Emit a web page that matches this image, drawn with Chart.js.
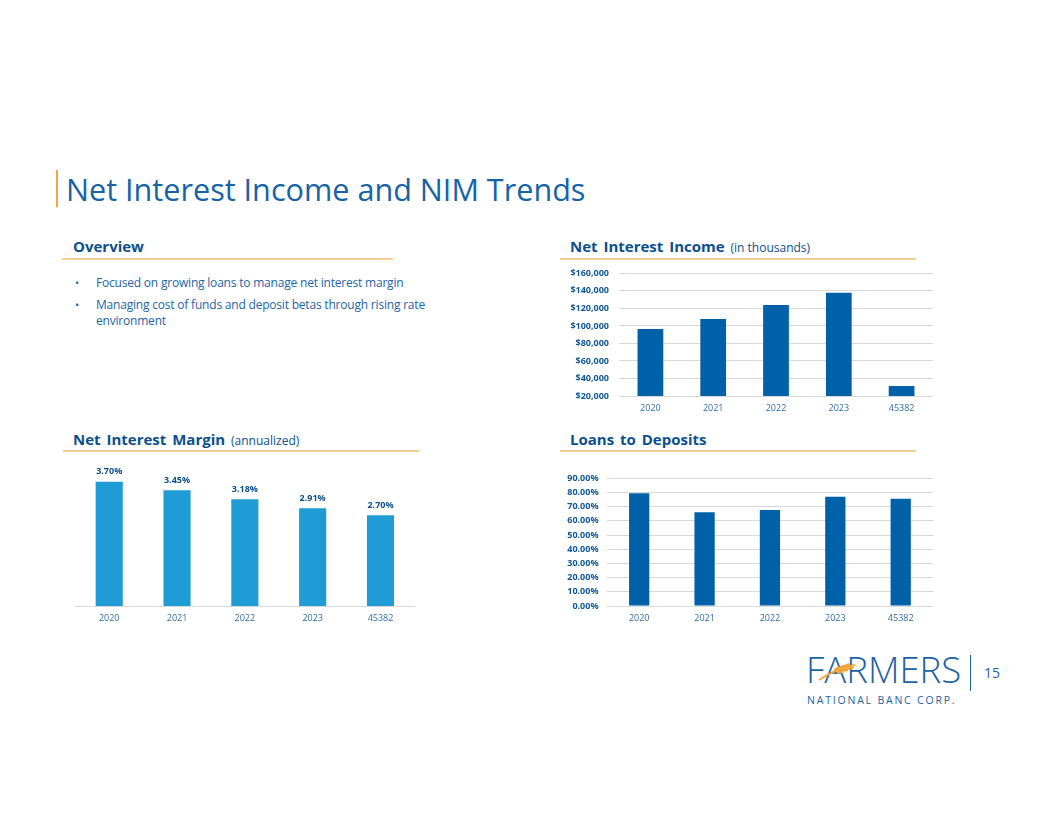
<!DOCTYPE html>
<html>
<head>
<meta charset="utf-8">
<script src="https://cdn.jsdelivr.net/npm/chart.js@4"></script>
<style>
  html, body { margin: 0; padding: 0; background: #fff; }
  body { width: 1056px; height: 816px; position: relative; overflow: hidden; font-family: "Open Sans", sans-serif; }
  .abs { position: absolute; }
  .title { left: 66px; top: 168px; font-size: 30.6px; color: #1763a8; white-space: nowrap; }
  .title-bar { left: 56px; top: 170px; width: 2px; height: 37px; background: #f2a63c; }
  .head { font-size: 15px; font-weight: bold; color: #0d4f8d; white-space: nowrap; word-spacing: 2px; }
  .head span { font-weight: normal; font-size: 12px; word-spacing: 0; }
  .rule { height: 2px; background: #f5cf8e; }
  .bullets { left: 75px; top: 275px; width: 356px; font-size: 12px; letter-spacing: -0.2px; color: #1e64a6; line-height: 16px; }
  .bullets div { position: relative; padding-left: 21px; margin-bottom: 6px; }
  .bullets div::before { content: "\2022"; position: absolute; left: 0; top: 0; font-size: 11px; }
  canvas { position: absolute; }
  .logo { left: 806px; top: 644px; font-size: 36.5px; font-weight: 300; color: #1d62a4; }
  .logo-sub { left: 807px; top: 693px; font-size: 10.5px; color: #1d62a4; letter-spacing: 1.8px; white-space: nowrap; }
  .sep { left: 970px; top: 655px; width: 1px; height: 36px; background: #1d62a4; }
  .page { left: 984px; top: 663px; font-size: 14px; color: #1d62a4; }
</style>
</head>
<body>
<div class="abs title-bar"></div>
<div class="abs title">Net Interest Income and NIM Trends</div>

<div class="abs head" style="left:73px;top:236px;">Overview</div>
<div class="abs rule" style="left:62px;top:258px;width:331px;"></div>
<div class="abs bullets">
  <div>Focused on growing loans to manage net interest margin</div>
  <div>Managing cost of funds and deposit betas through rising rate environment</div>
</div>

<div class="abs head" style="left:570px;top:236px;">Net Interest Income <span>(in thousands)</span></div>
<div class="abs rule" style="left:560px;top:258px;width:356px;"></div>
<canvas id="chart-nii" width="380" height="162" style="left:560px;top:258px;"></canvas>

<div class="abs head" style="left:73px;top:429px;">Net Interest Margin <span>(annualized)</span></div>
<div class="abs rule" style="left:63px;top:450px;width:356px;"></div>
<canvas id="chart-nim" width="360" height="170" style="left:60px;top:460px;"></canvas>

<div class="abs head" style="left:570px;top:429px;">Loans to Deposits</div>
<div class="abs rule" style="left:560px;top:450px;width:356px;"></div>
<canvas id="chart-ltd" width="390" height="165" style="left:550px;top:465px;"></canvas>

<div class="abs logo">FARMERS</div>
<svg class="abs" style="left:815px;top:658px;" width="45" height="26" viewBox="0 0 45 26">
  <path d="M4 22 Q18 12 40 7" stroke="#f2a63c" stroke-width="2" fill="none"/>
  <ellipse cx="22" cy="11" rx="3.5" ry="1.6" fill="#f2a63c" transform="rotate(-30 22 11)"/>
  <ellipse cx="27" cy="9" rx="3.5" ry="1.6" fill="#f2a63c" transform="rotate(-30 27 9)"/>
  <ellipse cx="32" cy="7.5" rx="3.5" ry="1.6" fill="#f2a63c" transform="rotate(-30 32 7.5)"/>
  <ellipse cx="25" cy="14" rx="3.5" ry="1.6" fill="#f2a63c" transform="rotate(-5 25 14)"/>
  <ellipse cx="30" cy="12" rx="3.5" ry="1.6" fill="#f2a63c" transform="rotate(-5 30 12)"/>
  <ellipse cx="35" cy="10" rx="3.5" ry="1.6" fill="#f2a63c" transform="rotate(-5 35 10)"/>
</svg>
<div class="abs logo-sub">NATIONAL BANC CORP.</div>
<div class="abs sep"></div>
<div class="abs page">15</div>

<script>
const YEARS = ["2020", "2021", "2022", "2023", "45382"];
const NII_VALUES = [96500, 108000, 123800, 138000, 31500];
const NIM_VALUES = [3.70, 3.45, 3.18, 2.91, 2.70];
const LTD_VALUES = [79.6, 66.1, 67.7, 77.0, 75.6];

const COLORS = {
  darkBar: "#0060a8",
  lightBar: "#1f9cd6",
  tickBold: "#0f5799",
  tickLabel: "#2f6fae",
  grid: "#d9d9d9",
  label: "#0e4f8a",
};

Chart.defaults.font.family = "'Open Sans', sans-serif";
Chart.defaults.animation = false;

const barLabels = {
  id: "barLabels",
  afterDatasetsDraw(chart) {
    const ctx = chart.ctx;
    const meta = chart.getDatasetMeta(0);
    ctx.save();
    ctx.font = "bold 9px 'Open Sans', sans-serif";
    ctx.fillStyle = COLORS.label;
    ctx.textAlign = "center";
    ctx.textBaseline = "middle";
    meta.data.forEach((bar, i) => {
      ctx.fillText(chart.data.datasets[0].data[i].toFixed(2) + "%", bar.x, bar.y - 10);
    });
    ctx.restore();
  },
};

function xAxis(showBorder) {
  return {
    grid: { display: false, drawTicks: false },
    border: { display: showBorder, color: COLORS.grid },
    ticks: { color: COLORS.tickLabel, font: { size: 9 }, padding: 7.5 },
    afterFit(scale) { scale.height = 24; },
  };
}

function initCharts() {
  // y tick padding also pads the chart top, so the canvas sits higher
  new Chart(document.getElementById("chart-nii"), {
    type: "bar",
    data: {
      labels: YEARS,
      datasets: [{
        data: NII_VALUES,
        backgroundColor: COLORS.darkBar,
        barPercentage: 0.41,
        categoryPercentage: 1,
      }],
    },
    options: {
      responsive: false,
      layout: { padding: { top: 0, right: 7, bottom: 0, left: 0 } },
      plugins: { legend: { display: false }, tooltip: { enabled: false } },
      scales: {
        x: xAxis(false),
        y: {
          min: 20000,
          max: 160000,
          grid: { color: COLORS.grid, drawTicks: false },
          border: { display: false },
          ticks: {
            stepSize: 20000,
            autoSkip: false,
            padding: 10,
            color: COLORS.tickBold,
            font: { size: 9, weight: "bold" },
            callback: (v) => "$" + v.toLocaleString("en-US"),
          },
          afterFit(scale) { scale.width = 59; },
        },
      },
    },
  });

  new Chart(document.getElementById("chart-nim"), {
    type: "bar",
    data: {
      labels: YEARS,
      datasets: [{
        data: NIM_VALUES,
        backgroundColor: COLORS.lightBar,
        barPercentage: 0.4,
        categoryPercentage: 1,
      }],
    },
    options: {
      responsive: false,
      layout: { padding: { top: 11.7, right: 5.6, bottom: 0, left: 15.3 } },
      plugins: { legend: { display: false }, tooltip: { enabled: false } },
      scales: {
        x: xAxis(true),
        y: { display: false, min: 0, max: 4 },
      },
    },
    plugins: [barLabels],
  });

  new Chart(document.getElementById("chart-ltd"), {
    type: "bar",
    data: {
      labels: YEARS,
      datasets: [{
        data: LTD_VALUES,
        backgroundColor: COLORS.darkBar,
        barPercentage: 0.31,
        categoryPercentage: 1,
      }],
    },
    options: {
      responsive: false,
      layout: { padding: { top: 0, right: 6.6, bottom: 0, left: 0 } },
      plugins: { legend: { display: false }, tooltip: { enabled: false } },
      scales: {
        x: xAxis(false),
        y: {
          min: 0,
          max: 90,
          grid: { color: COLORS.grid, drawTicks: false },
          border: { display: false },
          ticks: {
            stepSize: 10,
            autoSkip: false,
            padding: 8,
            color: COLORS.tickBold,
            font: { size: 9, weight: "bold" },
            callback: (v) => v.toFixed(2) + "%",
          },
          afterFit(scale) { scale.width = 56.5; },
        },
      },
    },
  });
}

document.addEventListener("DOMContentLoaded", initCharts);
</script>
</body>
</html>
